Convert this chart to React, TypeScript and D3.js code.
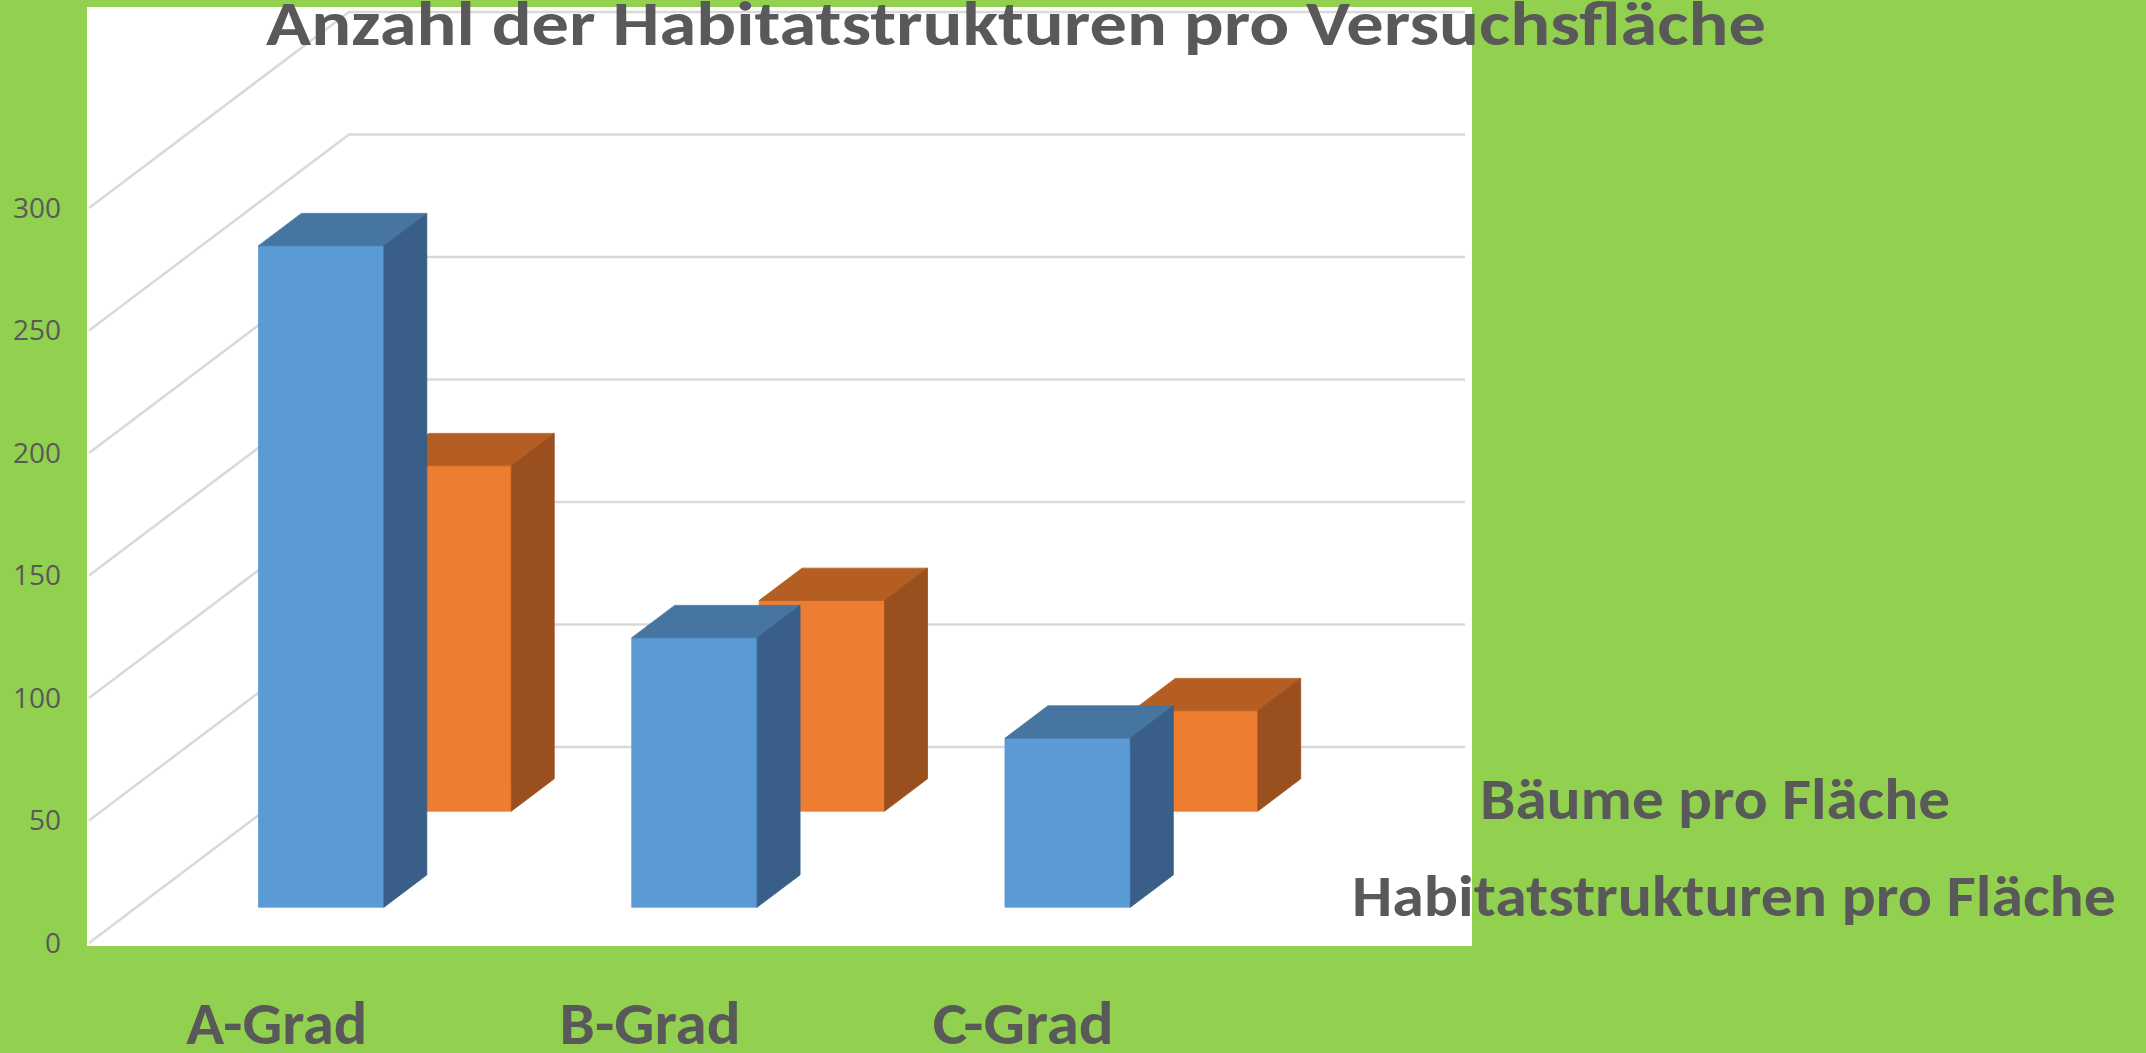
import * as d3 from "d3";

const categories = ["A-Grad", "B-Grad", "C-Grad"];
const seriesNames = ["Bäume pro Fläche", "Habitatstrukturen pro Fläche"];
const baeume = [270, 110, 69];
const habitat = [141, 86, 41];
const yTicks = [0, 50, 100, 150, 200, 250, 300];

const W = 2146;
const H = 1053;
// oblique 3D projection: front-left floor corner and depth vector
const x0 = 89;
const yFloor = 943;
const depthDX = 260;
const depthDY = -196;
const floorWidth = 1116;

const colors = [
  { front: "#5B9BD5", top: "#4675A1", side: "#395F88" },
  { front: "#ED7D31", top: "#B45E23", side: "#9A4F1E" },
];

const textColor = "#595959";
const boldFont = "Carlito, Calibri, 'Open Sans', sans-serif";

export default function App() {
  const x = d3.scaleBand().domain(categories).range([0, floorWidth]).paddingInner(0.664).paddingOuter(0.327);
  const y = d3.scaleLinear().domain([0, 300]).range([0, 735]);
  const z = d3.scaleBand().domain(seriesNames).range([0.02, 1]).paddingInner(0.663).paddingOuter(0.3315);

  const proj = (px: number, v: number, pz: number): [number, number] => [
    x0 + px + pz * depthDX,
    yFloor - y(v) - pz * depthDY * -1,
  ];
  const poly = (pts: [number, number][]) => pts.map((p) => p.join(",")).join(" ");

  const series = [baeume, habitat];
  const bw = x.bandwidth();
  const zw = z.bandwidth();

  // back row first, then front row
  const bars: JSX.Element[] = [];
  [1, 0].forEach((si) => {
    const z1 = z(seriesNames[si])!;
    const z2 = z1 + zw;
    const c = colors[si];
    categories.forEach((cat, ci) => {
      const v = series[si][ci];
      const x1 = x(cat)!;
      const x2 = x1 + bw;
      bars.push(
        <g key={`${si}-${ci}`}>
          <polygon points={poly([proj(x1, 0, z1), proj(x2, 0, z1), proj(x2, v, z1), proj(x1, v, z1)])}
            fill={c.front} stroke={c.front} strokeWidth={0.8} />
          <polygon points={poly([proj(x1, v, z1), proj(x2, v, z1), proj(x2, v, z2), proj(x1, v, z2)])}
            fill={c.top} stroke={c.top} strokeWidth={0.8} />
          <polygon points={poly([proj(x2, 0, z1), proj(x2, 0, z2), proj(x2, v, z2), proj(x2, v, z1)])}
            fill={c.side} stroke={c.side} strokeWidth={0.8} />
        </g>
      );
    });
  });

  return (
    <svg width={W} height={H} style={{ position: "absolute", left: 0, top: 0, display: "block" }}>
      <rect x={0} y={0} width={W} height={H} fill="#92D050" />
      <rect x={87} y={7} width={1385} height={939} fill="#FFFFFF" />

      {/* gridlines: left wall + back wall */}
      <g stroke="#D9D9D9" strokeWidth={2.5} fill="none">
        {yTicks.map((t) => {
          const a = proj(0, t, 0);
          const b = proj(0, t, 1);
          const c = proj(floorWidth, t, 1);
          return <polyline key={t} points={poly([a, b, c])} />;
        })}
      </g>

      {bars}

      {/* y axis labels */}
      <g fontFamily="'Open Sans', sans-serif" fontSize={28} fill={textColor} textAnchor="end">
        {yTicks.map((t) => (
          <text key={t} x={61} y={proj(0, t, 0)[1]} dy="0.35em">{t}</text>
        ))}
      </g>

      {/* category labels */}
      <g fontFamily={boldFont} fontWeight="bold" fontSize={60} fill={textColor} textAnchor="middle">
        {categories.map((cat) => (
          <text key={cat} x={x0 + x(cat)! + bw / 2 + 3} y={1044} textLength={181} lengthAdjust="spacingAndGlyphs">{cat}</text>
        ))}
      </g>

      {/* legend (text only) */}
      <g fontFamily={boldFont} fontWeight="bold" fontSize={58} fill={textColor}>
        <text x={1480} y={819} textLength={470} lengthAdjust="spacingAndGlyphs">{seriesNames[0]}</text>
        <text x={1352} y={916} textLength={764} lengthAdjust="spacingAndGlyphs">{seriesNames[1]}</text>
      </g>

      {/* title */}
      <text x={266} y={45} fontFamily={boldFont} fontWeight="bold" fontSize={62} fill={textColor}
        textLength={1500} lengthAdjust="spacingAndGlyphs">
        Anzahl der Habitatstrukturen pro Versuchsfläche
      </text>
    </svg>
  );
}
